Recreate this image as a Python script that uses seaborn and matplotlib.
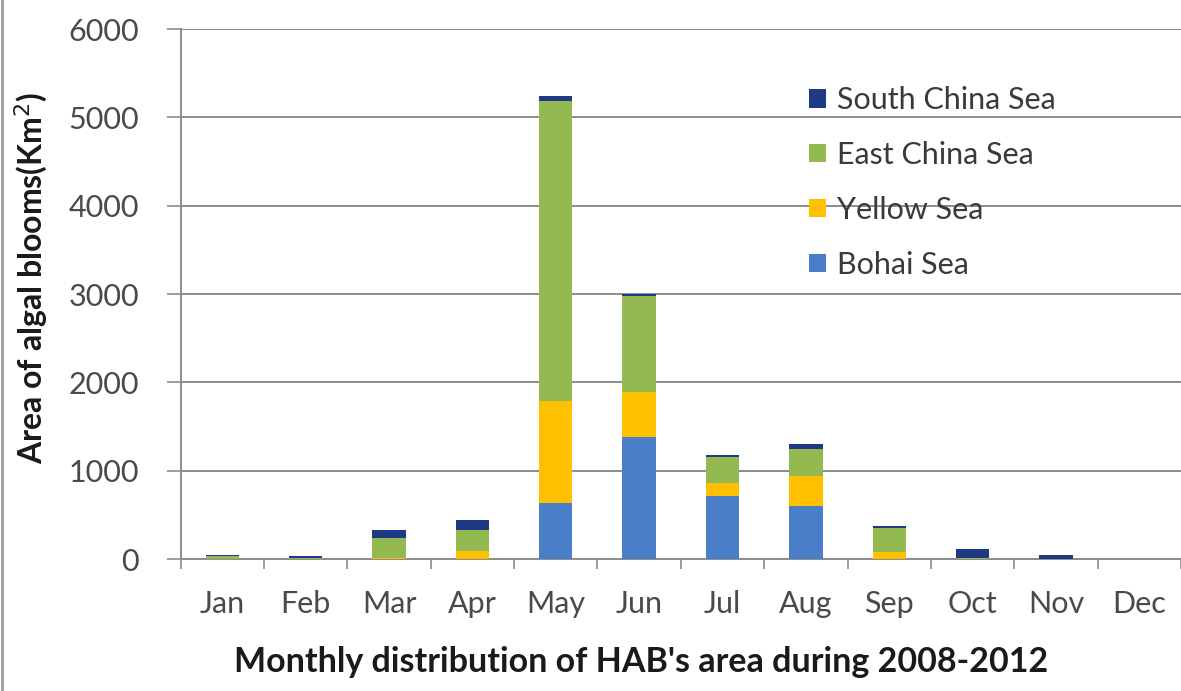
import numpy as np
import pandas as pd
import matplotlib
matplotlib.use("Agg")
import matplotlib.pyplot as plt
import seaborn as sns
from matplotlib.patches import Patch
from matplotlib.lines import Line2D

months = ["Jan", "Feb", "Mar", "Apr", "May", "Jun", "Jul", "Aug", "Sep", "Oct", "Nov", "Dec"]
bohai = [0, 0, 0, 0, 635, 1380, 715, 600, 0, 0, 0, 0]
yellow = [0, 0, 10, 90, 1155, 510, 145, 340, 80, 0, 0, 0]
east_china = [30, 15, 225, 240, 3400, 1090, 300, 300, 275, 10, 0, 0]
south_china = [20, 15, 95, 110, 55, 20, 20, 60, 20, 100, 50, 0]

series = ["Bohai Sea", "Yellow Sea", "East China Sea", "South China Sea"]
colors = {"Bohai Sea": "#4a7ec8", "Yellow Sea": "#ffc000",
          "East China Sea": "#93b950", "South China Sea": "#1f3a85"}

df = pd.DataFrame({"month": months, "Bohai Sea": bohai, "Yellow Sea": yellow,
                   "East China Sea": east_china, "South China Sea": south_china})
cum = df[series].cumsum(axis=1)
cum["month"] = months

sns.set_style("white")
plt.rcParams["font.family"] = ["Lato", "DejaVu Sans"]

fig = plt.figure(figsize=(11.81, 6.91), dpi=100)
ax = fig.add_axes([0.153, 0.191, 0.847, 0.767])

# stacked bars: draw cumulative totals from the top layer down
for s in reversed(series):
    sns.barplot(data=cum, x="month", y=s, color=colors[s], width=0.4,
                saturation=1, ax=ax, zorder=3, order=months,
                linewidth=0, edgecolor="none")

ax.set_ylim(0, 6000)
ax.set_xlim(-0.5, 11.5)
ax.set_yticks(np.arange(0, 6001, 1000))
ax.yaxis.grid(True, color="#8c8c8c", linewidth=1.4, zorder=0)
ax.set_axisbelow(True)

for side in ["top", "right"]:
    ax.spines[side].set_visible(False)
ax.spines["left"].set_color("#8c8c8c")
ax.spines["left"].set_linewidth(1.4)
ax.spines["bottom"].set_color("#8c8c8c")
ax.spines["bottom"].set_linewidth(1.4)

ax.tick_params(axis="y", direction="out", length=10, width=1.2, color="#8c8c8c",
               labelsize=22, labelcolor="#4a4a4a", pad=20, left=True)
ax.tick_params(axis="x", length=0, labelsize=22, labelcolor="#4a4a4a", pad=22)
ax.set_xticks(np.arange(-0.5, 12, 1), minor=True)
ax.tick_params(axis="x", which="minor", direction="out", length=7, width=1.2,
               color="#8c8c8c", bottom=True)

ax.set_xlabel("Monthly distribution of HAB's area during 2008-2012",
              fontsize=24.5, fontweight="bold", color="#1a1a1a")
ax.xaxis.set_label_coords(0.46, -0.165)
ax.set_ylabel("Area of algal blooms(Km$^2$)", fontsize=23, fontweight="bold",
              color="#1a1a1a")
ax.yaxis.set_label_coords(-0.131, 0.53)

handles = [Patch(facecolor=colors[s], edgecolor="none") for s in reversed(series)]
leg = ax.legend(handles, list(reversed(series)), loc="upper left",
                bbox_to_anchor=(0.601, 0.944), frameon=False, fontsize=22,
                labelspacing=0.88, handlelength=0.55, handleheight=0.55,
                handletextpad=0.35, labelcolor="#3a3a3a")

# thin frame line along the left edge of the figure
fig.add_artist(Line2D([0.002, 0.002], [0, 1], transform=fig.transFigure,
                      color="#9a9a9a", linewidth=2))

fig.savefig("out.png", dpi=100, facecolor="white")
